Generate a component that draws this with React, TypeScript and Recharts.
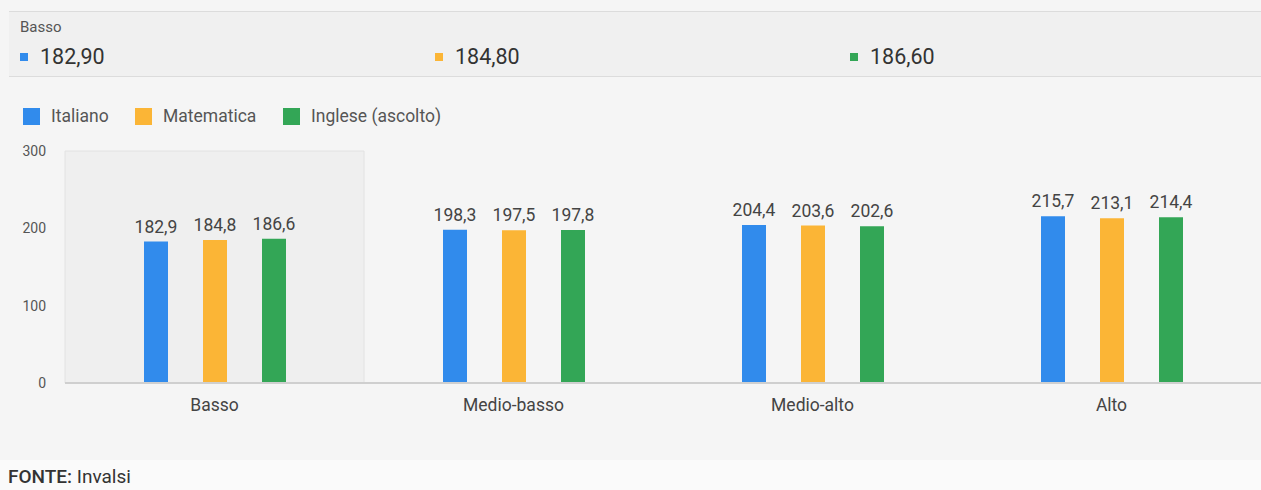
import React from "react";
import { BarChart, Bar, XAxis, YAxis, LabelList, ReferenceArea } from "recharts";

const categories = ["Basso", "Medio-basso", "Medio-alto", "Alto"];
const italiano = [182.9, 198.3, 204.4, 215.7];
const matematica = [184.8, 197.5, 203.6, 213.1];
const inglese = [186.6, 197.8, 202.6, 214.4];
const yTicks = [0, 100, 200, 300];

const seriesNames = ["Italiano", "Matematica", "Inglese (ascolto)"];
const colors = ["#318bec", "#fbb536", "#33a656"];

const data = categories.map((c, i) => ({
  name: c,
  italiano: italiano[i],
  matematica: matematica[i],
  inglese: inglese[i],
}));

const fmt1 = (v: any) => Number(v).toFixed(1).replace(".", ",");
const fmt2 = (v: number) => v.toFixed(2).replace(".", ",");

const font = "Roboto, 'Noto Sans', sans-serif";
const legendX = [23, 135, 283];

export default function App() {
  const active = 0;
  const activeVals = [italiano[active], matematica[active], inglese[active]];
  return (
    <div
      style={{
        position: "absolute",
        left: 0,
        top: 0,
        width: 1261,
        height: 490,
        background: "#f5f5f5",
        fontFamily: font,
        color: "#444",
        overflow: "hidden",
      }}
    >
      <div
        style={{
          position: "absolute",
          left: 9,
          right: 0,
          top: 11,
          height: 64,
          background: "#f0f0f0",
          borderTop: "1px solid #dcdcdc",
          borderBottom: "1px solid #dcdcdc",
        }}
      >
        <div style={{ position: "absolute", left: 11, top: 5, fontSize: 15, color: "#555", lineHeight: "20px" }}>
          {categories[active]}
        </div>
        {activeVals.map((v, i) => (
          <div
            key={i}
            style={{ position: "absolute", left: 11 + i * 415, top: 31, height: 28, display: "flex", alignItems: "center" }}
          >
            <div style={{ width: 8, height: 8, background: colors[i], marginRight: 12 }} />
            <span style={{ fontSize: 21.5, color: "#333", lineHeight: "28px" }}>{fmt2(v)}</span>
          </div>
        ))}
      </div>

      {seriesNames.map((n, i) => (
        <div
          key={n}
          style={{ position: "absolute", left: legendX[i], top: 107, height: 18, display: "flex", alignItems: "center" }}
        >
          <div style={{ width: 17, height: 17, background: colors[i], marginRight: 11 }} />
          <span style={{ fontSize: 17.5, color: "#555", lineHeight: "18px" }}>{n}</span>
        </div>
      ))}

      <div style={{ position: "absolute", left: 0, top: 140 }}>
        <BarChart
          width={1261}
          height={300}
          data={data}
          margin={{ top: 11, right: 0, bottom: 0, left: 0 }}
          barGap={35}
          barSize={24}
        >
          <ReferenceArea
            x1="Basso"
            x2="Basso"
            y1={0}
            y2={300}
            fill="#efefef"
            fillOpacity={1}
            stroke="#e2e2e2"
            strokeWidth={1}
          />
          <XAxis
            dataKey="name"
            height={57}
            tickLine={false}
            tickSize={0}
            tickMargin={16}
            axisLine={{ stroke: "#cfcfcf", strokeWidth: 2 }}
            tick={{ fontSize: 17.5, fill: "#444", fontFamily: font }}
          />
          <YAxis
            width={65}
            domain={[0, 300]}
            ticks={yTicks}
            axisLine={false}
            tickLine={false}
            tickSize={0}
            tickMargin={19}
            tick={{ fontSize: 14, fill: "#555", fontFamily: font }}
          />
          {["italiano", "matematica", "inglese"].map((k, i) => (
            <Bar key={k} dataKey={k} fill={colors[i]} isAnimationActive={false}>
              <LabelList
                dataKey={k}
                position="top"
                offset={9}
                formatter={fmt1}
                style={{ fontSize: 17.5, fill: "#444", fontFamily: font }}
              />
            </Bar>
          ))}
        </BarChart>
      </div>

      <div
        style={{
          position: "absolute",
          left: 0,
          top: 460,
          width: 1261,
          height: 30,
          background: "#fafafa",
        }}
      >
        <div style={{ position: "absolute", left: 8, top: 7, fontSize: 19, color: "#333", lineHeight: "20px" }}>
          <span style={{ fontWeight: 500 }}>FONTE:</span> Invalsi
        </div>
      </div>
    </div>
  );
}
